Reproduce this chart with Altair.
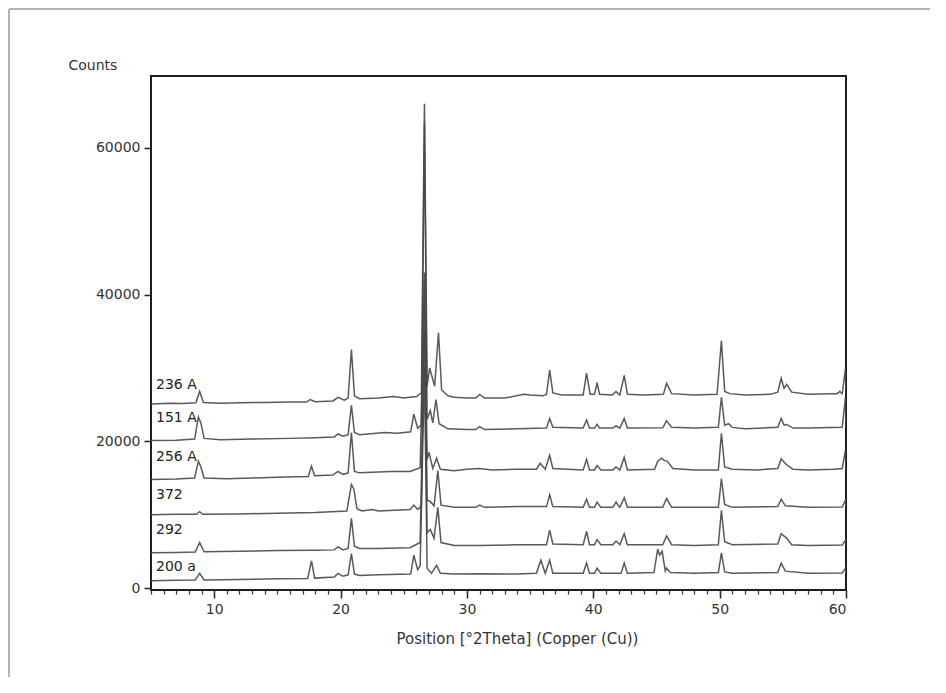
import altair as alt
import pandas as pd

samples = ["236 A", "151 A", "256 A", "372", "292", "200 a"]
label_theta = [5.4, 5.4, 5.4, 5.4, 5.4, 5.4]
label_counts = [27700, 23200, 17900, 12700, 7900, 2900]

x_236A = [5.0, 6.5, 7.5, 8.55, 8.85, 9.15, 10.5, 12, 14, 16, 17.3, 17.6, 18, 19.4, 19.8, 20.3, 20.6, 20.86, 21.1, 21.5, 23, 24.2, 25, 26.0, 26.4, 26.64, 26.85, 27.05, 27.45, 27.75, 28.0, 28.5, 29, 30, 30.7, 31.0, 31.4, 33, 34.5, 35, 36, 36.3, 36.55, 36.8, 37.5, 39.2, 39.47, 39.75, 40.1, 40.3, 40.5, 41.5, 41.8, 42.1, 42.45, 42.7, 44, 45.55, 45.8, 46.2, 48, 49.8, 50.14, 50.4, 50.8, 52, 54, 54.6, 54.87, 55.1, 55.3, 55.7, 57, 59, 59.3, 59.5, 59.7, 59.96, 60]
y_236A = [25100, 25200, 25150, 25250, 26800, 25300, 25200, 25250, 25300, 25350, 25350, 25700, 25400, 25500, 26000, 25600, 25900, 32500, 26200, 25800, 25900, 26100, 25900, 26100, 26600, 66000, 27500, 30000, 27500, 34800, 27000, 26200, 26000, 25900, 25900, 26400, 25900, 25900, 26400, 26300, 26200, 26400, 29700, 26600, 26300, 26300, 29300, 26400, 26400, 28000, 26400, 26300, 26800, 26300, 29000, 26400, 26300, 26400, 27900, 26500, 26300, 26400, 33700, 26800, 26500, 26300, 26400, 26700, 28600, 27200, 27750, 26700, 26400, 26500, 26500, 26800, 26500, 29900, 26500]

x_151A = [5, 7, 8.45, 8.75, 8.95, 9.2, 10.5, 13, 16, 18, 19.5, 19.8, 20.2, 20.6, 20.86, 21.1, 21.5, 23.5, 24.5, 25.55, 25.8, 26.1, 26.4, 26.64, 26.85, 27.1, 27.3, 27.55, 27.8, 28.5, 30, 30.7, 31, 31.4, 34, 36.3, 36.55, 36.8, 39.2, 39.47, 39.7, 40.1, 40.3, 40.5, 41.55, 41.8, 42.1, 42.45, 42.7, 45.5, 45.8, 46.2, 48, 49.9, 50.14, 50.4, 50.7, 51.0, 52, 54.6, 54.87, 55.1, 55.3, 55.8, 57, 59.7, 59.96, 60]
y_151A = [20100, 20150, 20300, 23300, 22500, 20400, 20200, 20300, 20400, 20500, 20600, 21000, 20700, 20900, 24900, 21200, 20900, 21200, 21100, 21300, 23700, 21800, 22200, 63500, 23000, 24200, 22500, 25700, 22400, 21700, 21600, 21600, 22000, 21600, 21700, 21800, 23100, 21900, 21800, 22900, 21800, 21800, 22300, 21800, 21800, 22100, 21800, 23100, 21800, 21850, 22800, 21900, 21800, 21900, 26000, 22200, 22400, 21900, 21700, 21900, 23100, 22200, 22300, 21800, 21800, 21900, 26000, 21900]

x_256A = [5, 7, 8.45, 8.75, 8.95, 9.2, 11, 13, 15, 17.45, 17.7, 17.95, 19.4, 19.8, 20.2, 20.6, 20.86, 21.1, 21.5, 23, 24, 25.5, 26.3, 26.64, 26.85, 27.0, 27.3, 27.6, 27.9, 29, 30, 31, 32, 34, 35.5, 35.8, 36.2, 36.55, 36.8, 39.2, 39.47, 39.7, 40.1, 40.3, 40.6, 41.55, 41.8, 42.1, 42.45, 42.7, 44.85, 45.1, 45.4, 45.6, 45.85, 46.3, 48, 49.9, 50.14, 50.4, 51, 53, 54.6, 54.87, 55.3, 55.8, 57, 59, 59.7, 59.96, 60]
y_256A = [14800, 14850, 15000, 17300, 16500, 15000, 14900, 15000, 15100, 15200, 16600, 15300, 15400, 15900, 15500, 15700, 21200, 15900, 15700, 15800, 15900, 15900, 16400, 43000, 17500, 18500, 16300, 17700, 16200, 16000, 16200, 16300, 16100, 16200, 16200, 17000, 16200, 18100, 16300, 16100, 17550, 16100, 16100, 16700, 16100, 16100, 16500, 16100, 17800, 16100, 16200, 17300, 17700, 17400, 17300, 16300, 16100, 16100, 21100, 16500, 16200, 16100, 16300, 17600, 16800, 16200, 16100, 16200, 16300, 18800, 16200]

x_372 = [5, 7, 8.6, 8.85, 9.1, 12, 15, 18, 20.5, 20.86, 21.05, 21.3, 21.7, 22.5, 23, 25.5, 25.8, 26.1, 26.4, 26.64, 26.85, 27.1, 27.4, 27.7, 27.95, 29, 30.7, 31, 31.4, 34, 36.3, 36.55, 36.8, 39.2, 39.47, 39.7, 40.1, 40.3, 40.6, 41.55, 41.8, 42.1, 42.45, 42.7, 45.5, 45.8, 46.2, 48, 49.9, 50.14, 50.4, 51, 54.6, 54.87, 55.2, 57, 59.7, 59.96, 60]
y_372 = [10000, 10050, 10050, 10400, 10050, 10100, 10200, 10300, 10500, 14100, 13500, 10800, 10500, 10700, 10500, 10700, 11300, 10700, 11200, 42000, 12000, 11800, 11200, 16000, 11300, 11000, 11000, 11300, 11000, 11100, 11100, 12700, 11100, 11000, 12100, 11000, 11000, 11700, 11000, 11000, 11700, 11000, 12300, 11000, 11000, 12200, 11000, 11000, 11000, 14900, 11400, 11000, 11100, 12100, 11200, 11000, 11050, 12000, 11100]

x_292 = [5, 7, 8.5, 8.85, 9.2, 12, 15, 18, 19.5, 19.8, 20.2, 20.6, 20.86, 21.1, 21.5, 23, 25.5, 26.3, 26.64, 26.85, 27.1, 27.4, 27.7, 27.95, 29, 31, 34, 36.3, 36.55, 36.8, 39.2, 39.47, 39.7, 40.1, 40.3, 40.6, 41.55, 41.8, 42.1, 42.45, 42.7, 45.5, 45.8, 46.2, 48, 49.9, 50.14, 50.4, 51, 54.6, 54.87, 55.3, 55.7, 57, 59.7, 59.96, 60]
y_292 = [4800, 4850, 4900, 6200, 4950, 5000, 5100, 5150, 5200, 5600, 5200, 5400, 9500, 5700, 5400, 5400, 5500, 6200, 35000, 7500, 8000, 6800, 11000, 6200, 5800, 5800, 5900, 5900, 7900, 6000, 5900, 7700, 5900, 5900, 6600, 5900, 5900, 6400, 5900, 7400, 5900, 5900, 7100, 5900, 5800, 5900, 10600, 6300, 5900, 6000, 7400, 6800, 5900, 5800, 5850, 6500, 5900]

x_200a = [5, 7, 8.5, 8.85, 9.2, 12, 15, 17.4, 17.7, 17.95, 19.5, 19.8, 20.2, 20.6, 20.86, 21.1, 21.5, 23, 25.55, 25.8, 26.1, 26.3, 26.64, 26.85, 27.2, 27.6, 27.9, 29, 31, 34, 35.5, 35.85, 36.2, 36.55, 36.8, 39.2, 39.47, 39.7, 40.1, 40.3, 40.6, 42.2, 42.45, 42.7, 44.8, 45.1, 45.25, 45.45, 45.7, 45.8, 46.1, 48, 49.9, 50.14, 50.4, 51, 54.6, 54.87, 55.2, 57, 59.7, 59.96, 60]
y_200a = [1000, 1050, 1100, 2000, 1100, 1150, 1250, 1300, 3700, 1350, 1500, 2000, 1600, 1800, 4700, 1900, 1700, 1800, 1900, 4500, 2500, 3000, 30000, 2700, 2000, 3100, 2000, 1900, 1950, 1900, 2000, 3800, 2000, 3800, 2000, 2000, 3400, 2000, 2000, 2700, 2000, 2000, 3400, 2000, 2100, 5300, 4500, 5000, 2300, 2700, 2100, 2000, 2100, 4800, 2200, 2000, 2100, 3400, 2300, 2000, 2050, 2700, 2050]

x_major_ticks = [10, 20, 30, 40, 50, 60]
x_minor_ticks = list(range(5, 61))
y_ticks = [0, 20000, 40000, 60000]

series_x = [x_236A, x_151A, x_256A, x_372, x_292, x_200a]
series_y = [y_236A, y_151A, y_256A, y_372, y_292, y_200a]

rows = []
for name, xs, ys in zip(samples, series_x, series_y):
    for a, b in zip(xs, ys):
        rows.append({"sample": name, "theta": a, "counts": b})
df = pd.DataFrame(rows)
labels_df = pd.DataFrame({"sample": samples, "theta": label_theta, "counts": label_counts})

FONT = "DejaVu Sans"
x_scale = alt.Scale(domain=[5, 60], nice=False, zero=False)
y_scale = alt.Scale(domain=[-270, 69800], nice=False, zero=False)

lines = alt.Chart(df).mark_line(color="#474747", strokeWidth=1.5, opacity=0.9, clip=True).encode(
    x=alt.X("theta:Q", scale=x_scale,
            axis=alt.Axis(values=x_major_ticks, format="d", tickSize=8, tickWidth=1.5, tickColor="#222",
                          labelFont=FONT, labelFontSize=14, labelColor="#333", labelPadding=4,
                          domain=False, grid=False, orient="bottom",
                          title="Position [°2Theta] (Copper (Cu))", titleFont=FONT, titleFontSize=15,
                          titleFontWeight="normal", titleColor="#333", titleX=366, titleY=48,
                          titleAlign="center", titleBaseline="middle")),
    y=alt.Y("counts:Q", scale=y_scale,
            axis=alt.Axis(values=y_ticks, format="d", tickSize=7, tickWidth=1.5, tickColor="#222",
                          labelFont=FONT, labelFontSize=14, labelColor="#333", labelPadding=4,
                          domain=False, grid=False,
                          title="Counts", titleFont=FONT, titleFontSize=14, titleFontWeight="normal",
                          titleColor="#333", titleAngle=0, titleX=-83, titleY=-11,
                          titleAlign="left", titleBaseline="middle")),
    detail="sample:N",
)

labels = alt.Chart(labels_df).mark_text(align="left", baseline="middle", font=FONT, fontSize=14, color="#222").encode(
    x=alt.X("theta:Q", scale=x_scale,
            axis=alt.Axis(values=x_minor_ticks, tickSize=4, tickWidth=1.2, tickColor="#333",
                          labels=False, domain=False, grid=False, title=None, orient="bottom")),
    y=alt.Y("counts:Q", scale=y_scale, axis=None),
    text="sample:N",
)

frame_df = pd.DataFrame({"k": [0]})
outer_left = alt.Chart(frame_df).mark_rule(color="#9a9a9a", strokeWidth=1.5).encode(
    x=alt.value(-142), y=alt.value(-67), y2=alt.value(700))
outer_top = alt.Chart(frame_df).mark_rule(color="#9a9a9a", strokeWidth=1.5).encode(
    x=alt.value(-142), x2=alt.value(900), y=alt.value(-67))

chart = alt.layer(outer_left, outer_top, lines, labels).resolve_axis(x="independent", y="independent").properties(
    width=695, height=514,
    autosize=alt.AutoSizeParams(type="none"),
    padding={"left": 143, "top": 68, "right": 84, "bottom": 87},
    background="white",
).configure_view(stroke="#1e1e1e", strokeWidth=2)

chart.save("out.html", embed_options={"renderer": "svg", "actions": False})
